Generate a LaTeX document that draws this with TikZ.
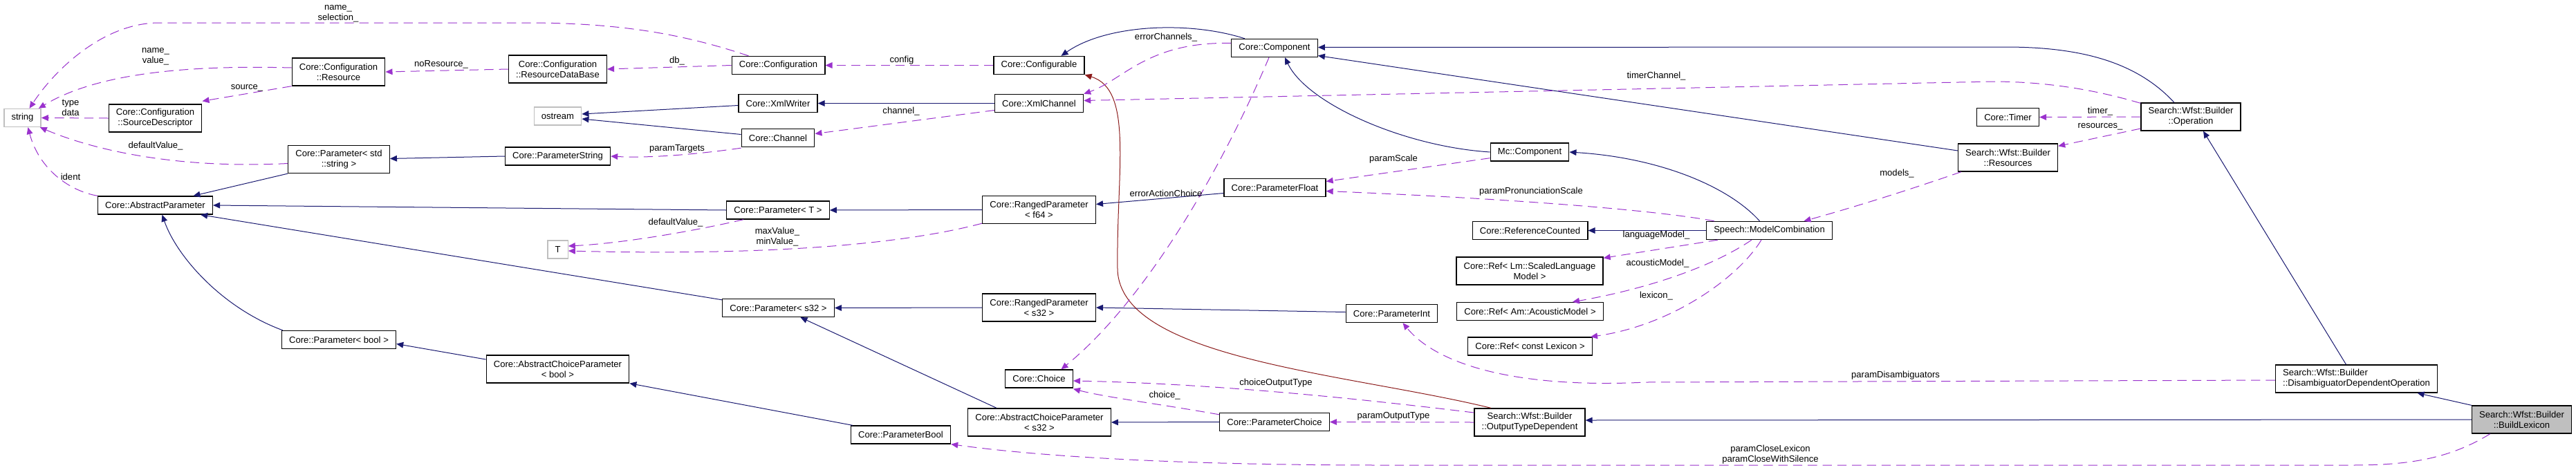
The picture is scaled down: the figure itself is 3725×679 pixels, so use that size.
\documentclass[tikz,border=0pt]{standalone}
\usepackage{fontspec}
\setmainfont{Liberation Sans}
\usetikzlibrary{arrows.meta,calc}
\definecolor{edgeblue}{RGB}{25,25,112}
\definecolor{edgepurple}{RGB}{154,50,205}
\definecolor{edgered}{RGB}{139,26,26}
\definecolor{extgray}{RGB}{191,191,191}

\begin{document}
\begin{tikzpicture}[x=0.75pt, y=-0.75pt,
  cls/.style={draw=black, line width=1pt, fill=white, align=center,
              font=\fontsize{9.8}{11.25}\selectfont,
              inner xsep=8pt, inner ysep=2pt, minimum height=19.5pt},
  two/.style={minimum height=30pt},
  ext/.style={cls, draw=extgray},
  cur/.style={cls, fill=extgray},
  lbl/.style={font=\fontsize{9.8}{11.25}\selectfont, inner sep=0pt, align=center},
  inh/.style={edgeblue, line width=0.75pt, -{Triangle[length=7.5pt,width=6.5pt]}},
  prot/.style={inh, edgered},
  usage/.style={edgepurple, line width=0.75pt, dash pattern=on 10pt off 6pt,
                -{Triangle[length=7.5pt,width=6.5pt]}}
]
\useasboundingbox (0,0) rectangle (3725,679);

% classes
\node[ext] (string) at (32.5,170.5) {string};
\node[cls, two] (res) at (489.5,104) {Core::Configuration\\::Resource};
\node[cls, two] (srcd) at (224.5,171) {Core::Configuration\\::SourceDescriptor};
\node[cls, two] (pstd) at (490,230.5) {Core::Parameter< std\\::string >};
\node[cls] (absp) at (224.5,297) {Core::AbstractParameter};
\node[cls] (pbool) at (490,491.5) {Core::Parameter< bool >};
\node[cls, two] (rdb) at (806.5,100) {Core::Configuration\\::ResourceDataBase};
\node[cls] (config) at (1125.5,94.5) {Core::Configuration};
\node[cls] (xmlw) at (1125,149.5) {Core::XmlWriter};
\node[ext] (ostream) at (806.5,168) {ostream};
\node[cls] (chan) at (1125,199.5) {Core::Channel};
\node[cls] (pstr) at (806.5,226) {Core::ParameterString};
\node[cls] (pT) at (1125,304) {Core::Parameter< T >};
\node[ext] (tpl) at (806.5,361) {T};
\node[cls] (ps32) at (1125.5,445.5) {Core::Parameter< s32 >};
\node[cls, two] (acbool) at (806.5,534) {Core::AbstractChoiceParameter\\< bool >};
\node[cls] (pb) at (1302.5,629) {Core::ParameterBool};
\node[cls] (cfgable) at (1502.5,94.5) {Core::Configurable};
\node[cls] (comp) at (1843,69.5) {Core::Component};
\node[cls] (xmlch) at (1502.5,149.5) {Core::XmlChannel};
\node[cls, two] (rf64) at (1502.5,303.5) {Core::RangedParameter\\< f64 >};
\node[cls] (pfloat) at (1843.5,271.5) {Core::ParameterFloat};
\node[cls, two] (rs32) at (1502.5,445) {Core::RangedParameter\\< s32 >};
\node[cls] (pint) at (2012.5,453.5) {Core::ParameterInt};
\node[cls] (choice) at (1502.5,548) {Core::Choice};
\node[cls, two] (acs32) at (1503,611) {Core::AbstractChoiceParameter\\< s32 >};
\node[cls] (pchoice) at (1843,610.5) {Core::ParameterChoice};
\node[cls] (mccomp) at (2212,220) {Mc::Component};
\node[cls] (refc) at (2212.5,333.5) {Core::ReferenceCounted};
\node[cls] (mc) at (2558.5,333.5) {Speech::ModelCombination};
\node[cls, two] (reflm) at (2212,392) {Core::Ref< Lm::ScaledLanguage\\Model >};
\node[cls] (refam) at (2212.5,450.5) {Core::Ref< Am::AcousticModel >};
\node[cls] (reflex) at (2212.5,501) {Core::Ref< const Lexicon >};
\node[cls, two] (otd) at (2212,611) {Search::Wfst::Builder\\::OutputTypeDependent};
\node[cls] (timer) at (2903.5,169.5) {Core::Timer};
\node[cls, two] (wres) at (2903.5,228) {Search::Wfst::Builder\\::Resources};
\node[cls, two] (op) at (3168,169) {Search::Wfst::Builder\\::Operation};
\node[cls, two, align=left] (ddo) at (3407.5,548) {Search::Wfst::Builder\\::DisambiguatorDependentOperation};
\node[cur, two] (bl) at (3646.5,607) {Search::Wfst::Builder\\::BuildLexicon};

% inheritance
\draw[inh] ($(comp.north)+(-43,0)$) .. controls (1720,30) and (1600,35) .. ($(cfgable.north)+(32,0)$);
\draw[inh] ($(op.north)+(-24,0)$) .. controls (3090,90) and (3010,68) .. (2900,68) -- ($(comp.east)+(0,-1)$);
\draw[inh] ($(wres.west)+(0,-10)$) -- ($(comp.east)+(0,11)$);
\draw[inh] (mccomp.west) .. controls (2030,212) and (1890,150) .. ($(comp.south)+(15,0)$);
\draw[inh] ($(mc.north)+(-14,0)$) .. controls (2500,270) and (2400,228) .. (mccomp.east);
\draw[inh] (mc.west) -- (refc.east);
\draw[inh] (xmlch.west) -- (xmlw.east);
\draw[inh] ($(xmlw.west)+(0,3)$) -- ($(ostream.east)+(0,-3)$);
\draw[inh] ($(chan.west)+(0,-5)$) -- ($(ostream.east)+(0,4)$);
\draw[inh] (pstr.west) -- ($(pstd.east)+(0,-1)$);
\draw[inh] (pstd.south west) -- ($(absp.north)+(55,0)$);
\draw[inh] (pT.west) -- (absp.east);
\draw[inh] ($(ps32.north west)+(0,2)$) -- ($(absp.south east)+(-18,0)$);
\draw[inh] ($(pbool.north west)+(2,0)$) .. controls (320,445) and (255,370) .. ($(absp.south)+(10,0)$);
\draw[inh] ($(acbool.west)+(0,-14)$) -- ($(pbool.east)+(0,6)$);
\draw[inh] ($(pb.north west)+(3,0)$) -- (acbool.south east);
\draw[inh] (rs32.west) -- (ps32.east);
\draw[inh] ($(acs32.north west)+(42,0)$) -- ($(ps32.south)+(32,0)$);
\draw[inh] (rf64.west) -- (pT.east);
\draw[inh] ($(pfloat.west)+(0,8)$) -- ($(rf64.east)+(0,-8)$);
\draw[inh] ($(pint.west)+(0,-2)$) -- (rs32.east);
\draw[inh] (pchoice.west) -- (acs32.east);
\draw[inh] (bl.west) -- ($(otd.east)+(0,-3)$);
\draw[inh] (bl.north west) -- ($(ddo.south)+(88,0)$);
\draw[inh] ($(ddo.north)+(-15,0)$) -- ($(op.south)+(18,0)$);
\draw[prot] ($(otd.north)+(-56,0)$) .. controls (1950,540) and (1620,520) .. (1616,390)
  .. controls (1614,250) and (1640,130) .. (cfgable.south east);

% usage
\draw[usage] ($(config.north)+(-43,0)$) .. controls (990,50) and (900,33) .. (760,33) -- (230,33)
  .. controls (150,33) and (80,100) .. ($(string.north)+(10,0)$);
\draw[usage] ($(res.west)+(0,-6)$) .. controls (300,95) and (150,100) .. ($(string.north east)+(-4,0)$);
\draw[usage] (res.south west) -- ($(srcd.north east)+(0,-4)$);
\draw[usage] (srcd.west) -- (string.east);
\draw[usage] ($(pstd.west)+(0,6)$) .. controls (250,245) and (130,215) .. ($(string.south east)+(-2,0)$);
\draw[usage] (absp.north west) .. controls (95,275) and (55,240) .. ($(string.south)+(8,0)$);
\draw[usage] (rdb.west) -- (res.east);
\draw[usage] (config.west) -- (rdb.east);
\draw[usage] (cfgable.west) -- (config.east);
\draw[usage] ($(xmlch.west)+(0,10)$) -- ($(chan.east)+(0,-6)$);
\draw[usage] ($(chan.south west)+(0,1)$) .. controls (1010,223) and (940,229) .. (pstr.east);
\draw[usage] ($(pT.south west)+(25,0)$) .. controls (1000,335) and (900,352) .. ($(tpl.east)+(0,-5)$);
\draw[usage] ($(rf64.south west)+(0,-1)$) .. controls (1300,355) and (1100,370) .. ($(tpl.east)+(0,2)$);
\draw[usage] ($(comp.west)+(0,-7)$) .. controls (1660,60) and (1625,115) .. (xmlch.north east);
\draw[usage] ($(op.north west)+(0,1)$) .. controls (3030,130) and (2960,118) .. (2880,118) -- ($(xmlch.east)+(0,-4)$);
\draw[usage] ($(comp.south)+(-8,0)$) .. controls (1760,260) and (1650,440) .. ($(choice.north)+(32,0)$);
\draw[usage] ($(otd.west)+(0,-14)$) .. controls (1950,575) and (1750,555) .. ($(choice.east)+(0,3)$);
\draw[usage] ($(pchoice.north west)+(0,3)$) .. controls (1680,585) and (1600,575) .. ($(choice.south east)+(0,1)$);
\draw[usage] (otd.west) -- (pchoice.east);
\draw[usage] ($(mccomp.south west)+(0,-5)$) -- ($(pfloat.east)+(0,-9)$);
\draw[usage] ($(mc.north west)+(12,0)$) .. controls (2400,305) and (2200,288) .. ($(pfloat.east)+(0,5)$);
\draw[usage] ($(wres.south west)+(5,0)$) .. controls (2760,275) and (2680,300) .. ($(mc.north)+(50,0)$);
\draw[usage] (op.west) -- (timer.east);
\draw[usage] ($(op.west)+(0,17)$) -- ($(wres.north east)+(0,4)$);
\draw[usage] ($(mc.south west)+(17,0)$) -- ($(reflm.north east)+(0,2)$);
\draw[usage] ($(mc.south west)+(66,0)$) .. controls (2470,390) and (2370,420) .. ($(refam.north east)+(-45,0)$);
\draw[usage] ($(mc.south west)+(80,0)$) .. controls (2515,400) and (2420,470) .. ($(reflex.north east)+(-3,0)$);
\draw[usage] ($(ddo.west)+(0,2)$) -- (2380,553) .. controls (2200,562) and (2080,530) .. ($(pint.south)+(16,0)$);
\draw[usage] ($(bl.south west)+(27,0)$) .. controls (3540,665) and (3480,673) .. (3400,673) -- (2000,673)
  .. controls (1700,673) and (1500,660) .. (pb.south east);

% member names
\node[lbl] (lNameSel) at (489,19.5) {name\_\\selection\_};
\node[lbl] (lNameVal) at (225,81.5) {name\_\\value\_};
\node[lbl] (lSource) at (357,127) {source\_};
\node[lbl] (lTypeData) at (102,155.5) {type\\data};
\node[lbl] (lDefStr) at (225,211) {defaultValue\_};
\node[lbl] (lIdent) at (102,256) {ident};
\node[lbl] (lNoRes) at (638,93) {noResource\_};
\node[lbl] (lDb) at (979,88) {db\_};
\node[lbl] (lConfig) at (1304,87) {config};
\node[lbl] (lChannel) at (1303,161) {channel\_};
\node[lbl] (lTargets) at (979,215) {paramTargets};
\node[lbl] (lDefT) at (977,322) {defaultValue\_};
\node[lbl] (lMinMax) at (1124,343) {maxValue\_\\minValue\_};
\node[lbl] (lErrCh) at (1686,54) {errorChannels\_};
\node[lbl] (lErrAct) at (1686,280) {errorActionChoice};
\node[lbl] (lScale) at (2015,230) {paramScale};
\node[lbl] (lChoiceOut) at (1845,554) {choiceOutputType};
\node[lbl] (lChoice) at (1684,572) {choice\_};
\node[lbl] (lOutType) at (2015,602) {paramOutputType};
\node[lbl] (lTimerCh) at (2395,110) {timerChannel\_};
\node[lbl] (lModels) at (2743,251) {models\_};
\node[lbl] (lPronScale) at (2214,277) {paramPronunciationScale};
\node[lbl] (lLangModel) at (2395,340) {languageModel\_};
\node[lbl] (lAcModel) at (2397,381) {acousticModel\_};
\node[lbl] (lLexicon) at (2395,428) {lexicon\_};
\node[lbl] (lDisamb) at (2741,543) {paramDisambiguators};
\node[lbl] (lClose) at (2560,657.5) {paramCloseLexicon\\paramCloseWithSilence};
\node[lbl] (lTimer) at (3037,161) {timer\_};
\node[lbl] (lResources) at (3037,183) {resources\_};
\end{tikzpicture}
\end{document}
